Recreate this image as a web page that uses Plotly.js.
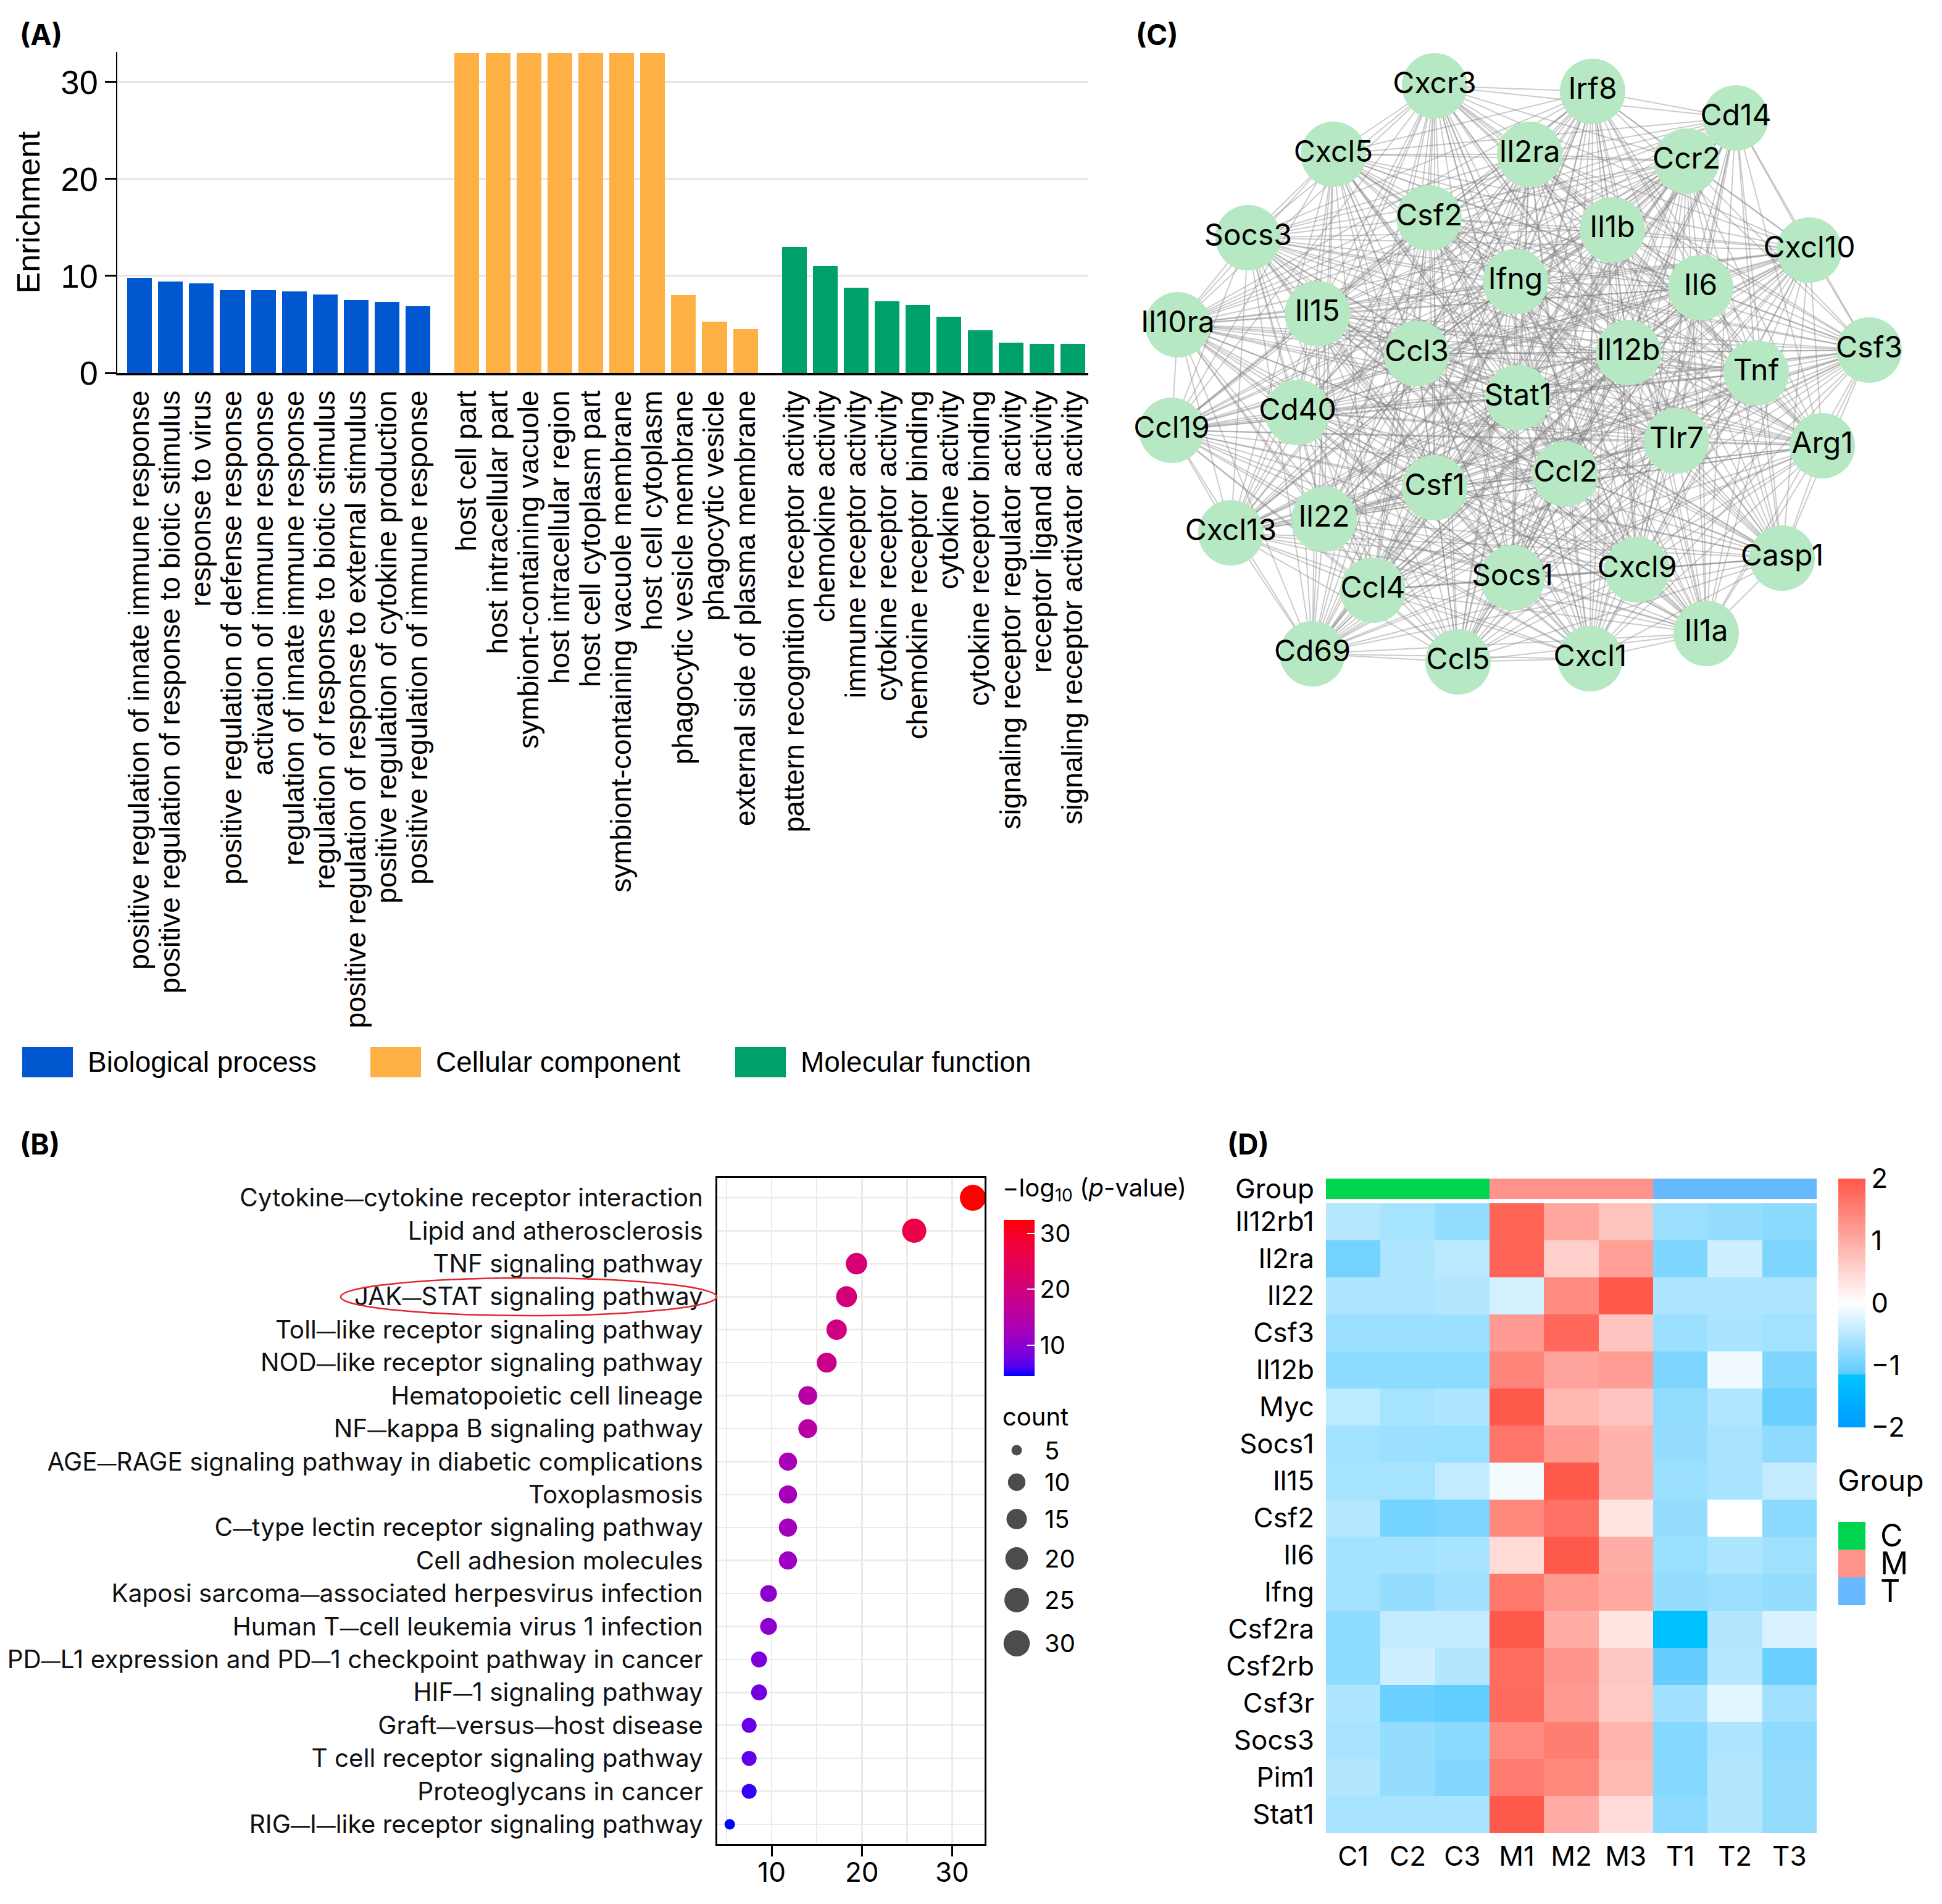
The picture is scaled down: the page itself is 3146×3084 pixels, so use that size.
<!DOCTYPE html>
<html><head><meta charset="utf-8">
<script src="https://cdn.plot.ly/plotly-3.0.1.min.js"></script>
<style>html,body{margin:0;padding:0;background:#fff}#chart{width:3146px;height:3084px}</style>
</head><body><div id="chart"></div>
<script>
// ---------------- Panel A data ----------------
const bpTerms = ["positive regulation of innate immune response","positive regulation of response to biotic stimulus","response to virus","positive regulation of defense response","activation of immune response","regulation of innate immune response","regulation of response to biotic stimulus","positive regulation of response to external stimulus","positive regulation of cytokine production","positive regulation of immune response"];
const bpEnrich = [9.8,9.4,9.2,8.5,8.5,8.4,8.1,7.5,7.3,6.9];
const ccTerms = ["host cell part","host intracellular part","symbiont-containing vacuole","host intracellular region","host cell cytoplasm part","symbiont-containing vacuole membrane","host cell cytoplasm","phagocytic vesicle membrane","phagocytic vesicle","external side of plasma membrane"];
const ccEnrich = [33,33,33,33,33,33,33,8.0,5.3,4.5];
const mfTerms = ["pattern recognition receptor activity","chemokine activity","immune receptor activity","cytokine receptor activity","chemokine receptor binding","cytokine activity","cytokine receptor binding","signaling receptor regulator activity","receptor ligand activity","signaling receptor activator activity"];
const mfEnrich = [13.0,11.0,8.8,7.4,7.0,5.8,4.4,3.1,3.0,3.0];
const goGroups = ["Biological process","Cellular component","Molecular function"];
const goColors = ["#0057CF","#FFB045","#00A06D"];

// ---------------- Panel B data ----------------
const pathways = ["Cytokine—cytokine receptor interaction","Lipid and atherosclerosis","TNF signaling pathway","JAK—STAT signaling pathway","Toll—like receptor signaling pathway","NOD—like receptor signaling pathway","Hematopoietic cell lineage","NF—kappa B signaling pathway","AGE—RAGE signaling pathway in diabetic complications","Toxoplasmosis","C—type lectin receptor signaling pathway","Cell adhesion molecules","Kaposi sarcoma—associated herpesvirus infection","Human T—cell leukemia virus 1 infection","PD—L1 expression and PD—1 checkpoint pathway in cancer","HIF—1 signaling pathway","Graft—versus—host disease","T cell receptor signaling pathway","Proteoglycans in cancer","RIG—I—like receptor signaling pathway"];
const pathX = [32.3,25.8,19.4,18.3,17.2,16.1,14.0,14.0,11.8,11.8,11.8,11.8,9.65,9.65,8.6,8.6,7.5,7.5,7.5,5.35];
const pathCount = [29,24,17,16,15,14,12,12,11,11,11,11,9,9,8,8,7,7,7,5];
const pathLogP = [32.4,26.5,21,20.5,19.5,18.5,15,15.3,13,12.6,12.4,11.8,10,10.2,8.8,8.0,7.3,7.0,5.6,4.5];
const countKeys = [5,10,15,20,25,30];

// ---------------- Panel C data ----------------
const nodeNames = ["Cxcr3","Irf8","Cd14","Cxcl5","Il2ra","Ccr2","Csf2","Il1b","Socs3","Cxcl10","Ifng","Il6","Il10ra","Il15","Csf3","Ccl3","Il12b","Tnf","Stat1","Cd40","Ccl19","Tlr7","Arg1","Ccl2","Csf1","Il22","Cxcl13","Casp1","Socs1","Cxcl9","Ccl4","Il1a","Cd69","Ccl5","Cxcl1"];
const nodeX = [2324,2580,2812,2160,2478,2732,2315,2612,2022,2931,2455,2755,1908,2134,3028,2295,2638,2845,2459,2102,1898,2716,2952,2536,2324,2145,1994,2887,2450,2652,2224,2764,2126,2362,2576];
const nodeY = [139,148,191,250,250,261,353,372,385,405,456,466,526,508,567,573,571,604,644,668,697,714,722,768,790,841,863,904,936,923,956,1026,1059,1072,1067];

// ---------------- Panel D data ----------------
const samples = ["C1","C2","C3","M1","M2","M3","T1","T2","T3"];
const sampleGroup = ["C","C","C","M","M","M","T","T","T"];
const groupNames = ["C","M","T"];
const groupColors = ["#00D652","#FF928A","#66B8FF"];
const genes = ["Il12rb1","Il2ra","Il22","Csf3","Il12b","Myc","Socs1","Il15","Csf2","Il6","Ifng","Csf2ra","Csf2rb","Csf3r","Socs3","Pim1","Stat1"];
const expr = [
 [-0.52,-0.62,-0.76,1.83,1.04,0.71,-0.69,-0.74,-0.81],
 [-0.98,-0.57,-0.48,1.83,0.57,1.14,-0.90,-0.34,-0.90],
 [-0.57,-0.57,-0.53,-0.31,1.36,1.98,-0.57,-0.57,-0.57],
 [-0.69,-0.69,-0.69,1.18,1.79,0.69,-0.69,-0.59,-0.64],
 [-0.80,-0.80,-0.80,1.44,1.08,1.17,-0.91,-0.10,-0.90],
 [-0.46,-0.62,-0.57,1.96,0.84,0.67,-0.76,-0.55,-1.04],
 [-0.64,-0.69,-0.71,1.63,1.20,0.90,-0.75,-0.60,-0.78],
 [-0.62,-0.62,-0.43,-0.08,1.96,0.90,-0.69,-0.61,-0.43],
 [-0.52,-0.97,-0.92,1.42,1.68,0.32,-0.75,-0.01,-0.82],
 [-0.63,-0.63,-0.61,0.44,1.96,0.96,-0.71,-0.57,-0.67],
 [-0.64,-0.75,-0.66,1.60,1.20,1.02,-0.75,-0.69,-0.75],
 [-0.80,-0.43,-0.43,1.96,0.98,0.32,-1.25,-0.53,-0.27],
 [-0.80,-0.34,-0.53,1.73,1.24,0.66,-1.08,-0.50,-1.04],
 [-0.57,-1.04,-1.10,1.75,1.20,0.64,-0.66,-0.20,-0.66],
 [-0.61,-0.75,-0.82,1.38,1.53,0.88,-0.85,-0.57,-0.78],
 [-0.53,-0.75,-0.87,1.57,1.41,0.82,-0.85,-0.53,-0.75],
 [-0.61,-0.61,-0.61,1.96,0.97,0.41,-0.79,-0.53,-0.75]
];

// ---------------- helpers ----------------
const W = 3146, H = 3084;
const px = v => v / W;
const py = v => 1 - v / H;
const FONT = "Inter, 'Noto Sans', sans-serif";
const AFONT = "'Liberation Sans', Arial, sans-serif";

function hex2rgb(h){h=h.replace('#','');return [0,2,4].map(i=>parseInt(h.substr(i,2),16));}
function rgb2lab(c){
  const f=v=>{v/=255;return v<=0.04045?v/12.92:Math.pow((v+0.055)/1.055,2.4);};
  const R=f(c[0]),G=f(c[1]),B=f(c[2]);
  const X=(R*0.4124+G*0.3576+B*0.1805)/0.95047, Y=R*0.2126+G*0.7152+B*0.0722, Z=(R*0.0193+G*0.1192+B*0.9505)/1.08883;
  const g=t=>t>0.008856?Math.cbrt(t):(7.787*t+16/116);
  const fx=g(X),fy=g(Y),fz=g(Z);
  return [116*fy-16,500*(fx-fy),200*(fy-fz)];
}
function lab2rgb(l){
  const fy=(l[0]+16)/116, fx=fy+l[1]/500, fz=fy-l[2]/200;
  const h=t=>{const t3=t*t*t;return t3>0.008856?t3:(t-16/116)/7.787;};
  const X=h(fx)*0.95047, Y=h(fy), Z=h(fz)*1.08883;
  const R=X*3.2406-Y*1.5372-Z*0.4986, G=-X*0.9689+Y*1.8758+Z*0.0415, B=X*0.0557-Y*0.2040+Z*1.0570;
  const f=c=>{c=c<=0.0031308?12.92*c:1.055*Math.pow(c,1/2.4)-0.055;return Math.round(Math.min(1,Math.max(0,c))*255);};
  return 'rgb('+f(R)+','+f(G)+','+f(B)+')';
}
function labScale(lo,hi,n){
  const a=rgb2lab(hex2rgb(lo)), b=rgb2lab(hex2rgb(hi)); const out=[];
  for(let i=0;i<=n;i++){const t=i/n;out.push([t,lab2rgb([a[0]+(b[0]-a[0])*t,a[1]+(b[1]-a[1])*t,a[2]+(b[2]-a[2])*t])]);}
  return out;
}
const dotSize = c => 17 + 5.1*Math.sqrt(Math.max(c-5,0));

const traces = [];
const shapes = [];
const annotations = [];

// ---------------- Panel A ----------------
const GROUP_SHIFT = 0.58;
const goSets = [[bpTerms,bpEnrich],[ccTerms,ccEnrich],[mfTerms,mfEnrich]];
const allPos = [], allTerms = [];
let idx = 0;
goSets.forEach((s,g)=>{
  const xs = s[0].map((t,i)=>idx + i + g*GROUP_SHIFT);
  idx += s[0].length;
  xs.forEach((x,i)=>{allPos.push(x);allTerms.push(s[0][i]);});
  traces.push({type:'bar',x:xs,y:s[1],width:0.8,marker:{color:goColors[g],line:{width:0}},
    name:goGroups[g],xaxis:'x',yaxis:'y',showlegend:false,hoverinfo:'skip'});
});
goGroups.forEach((g,i)=>{
  const x0s=[36,600,1191][i];
  shapes.push({type:'rect',xref:'paper',yref:'paper',x0:px(x0s),x1:px(x0s+82),y0:py(1745),y1:py(1696),fillcolor:goColors[i],line:{width:0}});
  annotations.push({xref:'paper',yref:'paper',x:px(x0s+104),y:py(1720),xanchor:'left',yanchor:'middle',text:g,showarrow:false,font:{family:AFONT,size:46,color:'#000'}});
});

// ---------------- Panel B ----------------
const pathScale = labScale('#0000FF','#FF0000',16);
const pathTickText = pathways.map(s=>s.replace(/—/g,'<span style="font-size:31px">—</span>'));
traces.push({type:'scatter',mode:'markers',x:pathX,y:pathways,xaxis:'x2',yaxis:'y2',showlegend:false,hoverinfo:'skip',
  marker:{size:pathCount.map(dotSize),color:pathLogP,colorscale:pathScale,cmin:4.5,cmax:32.4,line:{width:0},opacity:1,
    colorbar:{x:px(1626),xanchor:'left',xpad:0,y:py(1976),yanchor:'top',ypad:0,thickness:50,thicknessmode:'pixels',len:253,lenmode:'pixels',
      tickvals:[10,20,30],ticks:'inside',ticklen:12,tickwidth:2,tickcolor:'#fff',outlinewidth:0,
      tickfont:{family:FONT,size:40,color:'#000'}}}});
// count legend
const keyH = countKeys.map(c=>dotSize(c)+29);
const keyY = []; let cy = 2349;
countKeys.forEach((c,i)=>{ if(i>0) cy += (keyH[i-1]+keyH[i])/2; keyY.push(cy); });
traces.push({type:'scatter',mode:'markers',x:countKeys.map(()=>1647),y:keyY,xaxis:'x6',yaxis:'y6',showlegend:false,hoverinfo:'skip',
  marker:{size:countKeys.map(dotSize),color:'#000',line:{width:0}},cliponaxis:false});
countKeys.forEach((c,i)=>annotations.push({xref:'paper',yref:'paper',x:px(1690),y:py(keyY[i]),xanchor:'left',yanchor:'middle',text:String(c),showarrow:false,font:{family:FONT,size:40,color:'#000'}}));
annotations.push({xref:'paper',yref:'paper',x:px(1622),y:py(1926),xanchor:'left',yanchor:'middle',text:'−log<sub>10</sub> (<i>p</i>-value)',showarrow:false,font:{family:FONT,size:40,color:'#000'}});
annotations.push({xref:'paper',yref:'paper',x:px(1622),y:py(2294),xanchor:'left',yanchor:'middle',text:'count',showarrow:false,font:{family:FONT,size:40,color:'#000'}});
shapes.push({type:'circle',xref:'paper',yref:'paper',x0:px(552),x1:px(1161),y0:py(2131),y1:py(2070),line:{color:'#E0282E',width:2.5}});

// ---------------- Panel C ----------------
for(let i=0;i<nodeNames.length;i++){
  const ex=[],ey=[];
  for(let j=i+1;j<nodeNames.length;j++){ex.push(nodeX[i],nodeX[j],null);ey.push(nodeY[i],nodeY[j],null);}
  if(ex.length) traces.push({type:'scatter',mode:'lines',x:ex,y:ey,xaxis:'x3',yaxis:'y3',showlegend:false,hoverinfo:'skip',
    line:{color:'rgba(125,125,125,0.40)',width:2}});
}
traces.push({type:'scatter',mode:'markers+text',x:nodeX,y:nodeY,text:nodeNames,textposition:'middle center',xaxis:'x3',yaxis:'y3',
  showlegend:false,hoverinfo:'skip',marker:{size:106,color:'#B6E8C3',line:{width:0}},textfont:{family:FONT,size:48,color:'#000'},cliponaxis:false});

// ---------------- Panel D ----------------
const heatScale = [[0,'#009AFF'],[0.21,'#00C4FF'],[0.215,'#5CCBFF'],[0.5,'#FFFFFF'],[1,'#FF5647']];
traces.push({type:'heatmap',x:samples,y:genes,z:expr,xaxis:'x4',yaxis:'y4',zmin:-2,zmax:2,colorscale:heatScale,hoverinfo:'skip',
  colorbar:{x:px(2978),xanchor:'left',xpad:0,y:py(1909),yanchor:'top',ypad:0,thickness:44,thicknessmode:'pixels',len:403,lenmode:'pixels',
    tickvals:[-2,-1,0,1,2],ticktext:['−2','−1','0','1','2'],ticks:'',outlinewidth:0,tickfont:{family:FONT,size:44,color:'#000'}}});
traces.push({type:'heatmap',x:samples,y:['Group'],z:[sampleGroup.map(g=>groupNames.indexOf(g))],xaxis:'x5',yaxis:'y5',zmin:0,zmax:2,showscale:false,hoverinfo:'skip',
  colorscale:[[0,groupColors[0]],[0.333,groupColors[0]],[0.334,groupColors[1]],[0.666,groupColors[1]],[0.667,groupColors[2]],[1,groupColors[2]]]});
annotations.push({xref:'paper',yref:'paper',x:px(2975),y:py(2397),xanchor:'left',yanchor:'middle',text:'Group',showarrow:false,font:{family:FONT,size:48,color:'#000'}});
groupNames.forEach((g,i)=>{
  const y0 = 2465 + i*45;
  shapes.push({type:'rect',xref:'paper',yref:'paper',x0:px(2978),x1:px(3022),y0:py(y0+45),y1:py(y0),fillcolor:groupColors[i],line:{width:0}});
  annotations.push({xref:'paper',yref:'paper',x:px(3044),y:py(y0+22),xanchor:'left',yanchor:'middle',text:g,showarrow:false,font:{family:FONT,size:50,color:'#000'}});
});

// ---------------- Panel labels ----------------
[['(A)',30,56],['(B)',30,1853],['(C)',1838,56],['(D)',1986,1853]].forEach(l=>annotations.push({xref:'paper',yref:'paper',x:px(l[1]),y:py(l[2]),xanchor:'left',yanchor:'middle',text:'<b>'+l[0]+'</b>',showarrow:false,font:{family:FONT,size:46,color:'#000'}}));

const layout = {
  width:W,height:H,margin:{l:0,r:0,t:0,b:0},paper_bgcolor:'#fff',plot_bgcolor:'rgba(0,0,0,0)',
  font:{family:FONT,color:'#000'},showlegend:false,bargap:0,
  xaxis:{domain:[px(190),px(1763)],range:[-0.72,30.66],tickvals:allPos,ticktext:allTerms,tickangle:-90,ticks:'',
    tickfont:{family:AFONT,size:46,color:'#000'},showline:true,linecolor:'#000',linewidth:4,showgrid:false,zeroline:false,ticklabelstandoff:6,fixedrange:true},
  yaxis:{domain:[py(604),py(84)],range:[0,33.1],tickvals:[0,10,20,30],ticks:'outside',ticklen:18,tickwidth:3,tickcolor:'#000',
    showline:true,linecolor:'#000',linewidth:2.5,gridcolor:'#E5E5E5',gridwidth:3,zeroline:false,
    tickfont:{family:AFONT,size:54,color:'#000'},title:{text:'Enrichment',font:{family:AFONT,size:52,color:'#000'},standoff:18}},
  xaxis2:{domain:[px(1162),px(1595)],range:[3.97,33.6],tickvals:[10,20,30],ticks:'outside',ticklen:17,tickwidth:3,tickcolor:'#000',
    showline:true,mirror:true,linecolor:'#000',linewidth:3,showgrid:true,gridcolor:'#EBEBEB',gridwidth:2.5,zeroline:false,
    minor:{dtick:5,tick0:0,showgrid:true,gridcolor:'#EBEBEB',gridwidth:2.5},ticklabelstandoff:-12,
    tickfont:{family:FONT,size:44,color:'#000'},anchor:'y2'},
  yaxis2:{domain:[py(2987),py(1908)],type:'category',range:[19.6,-0.6],showline:true,mirror:true,linecolor:'#000',linewidth:3,
    tickmode:'array',tickvals:pathways,ticktext:pathTickText,
    showgrid:true,gridcolor:'#EBEBEB',gridwidth:2.5,ticks:'',ticklabelstandoff:12,tickfont:{family:FONT,size:40.5,color:'#111'},anchor:'x2'},
  xaxis3:{domain:[px(1860),px(3090)],range:[1860,3090],visible:false,anchor:'y3'},
  yaxis3:{domain:[py(1120),py(80)],range:[1120,80],visible:false,anchor:'x3'},
  xaxis4:{domain:[px(2148),px(2943)],type:'category',ticks:'',showline:false,showgrid:false,zeroline:false,ticklabelstandoff:8,
    tickfont:{family:FONT,size:44,color:'#000'},anchor:'y4'},
  yaxis4:{domain:[py(2969),py(1949)],type:'category',autorange:'reversed',ticks:'',showline:false,showgrid:false,zeroline:false,ticklabelstandoff:18,
    tickfont:{family:FONT,size:44,color:'#000'},anchor:'x4'},
  xaxis5:{domain:[px(2148),px(2943)],type:'category',visible:false,anchor:'y5'},
  yaxis5:{domain:[py(1942),py(1909)],type:'category',ticks:'',showline:false,showgrid:false,zeroline:false,ticklabelstandoff:18,
    tickfont:{family:FONT,size:44,color:'#000'},anchor:'x5'},
  xaxis6:{domain:[px(1620),px(1675)],range:[1620,1675],visible:false,anchor:'y6'},
  yaxis6:{domain:[py(2700),py(2320)],range:[2700,2320],visible:false,anchor:'x6'},
  shapes:shapes,annotations:annotations
};
Plotly.newPlot('chart',traces,layout,{staticPlot:true,displayModeBar:false});
</script></body></html>
